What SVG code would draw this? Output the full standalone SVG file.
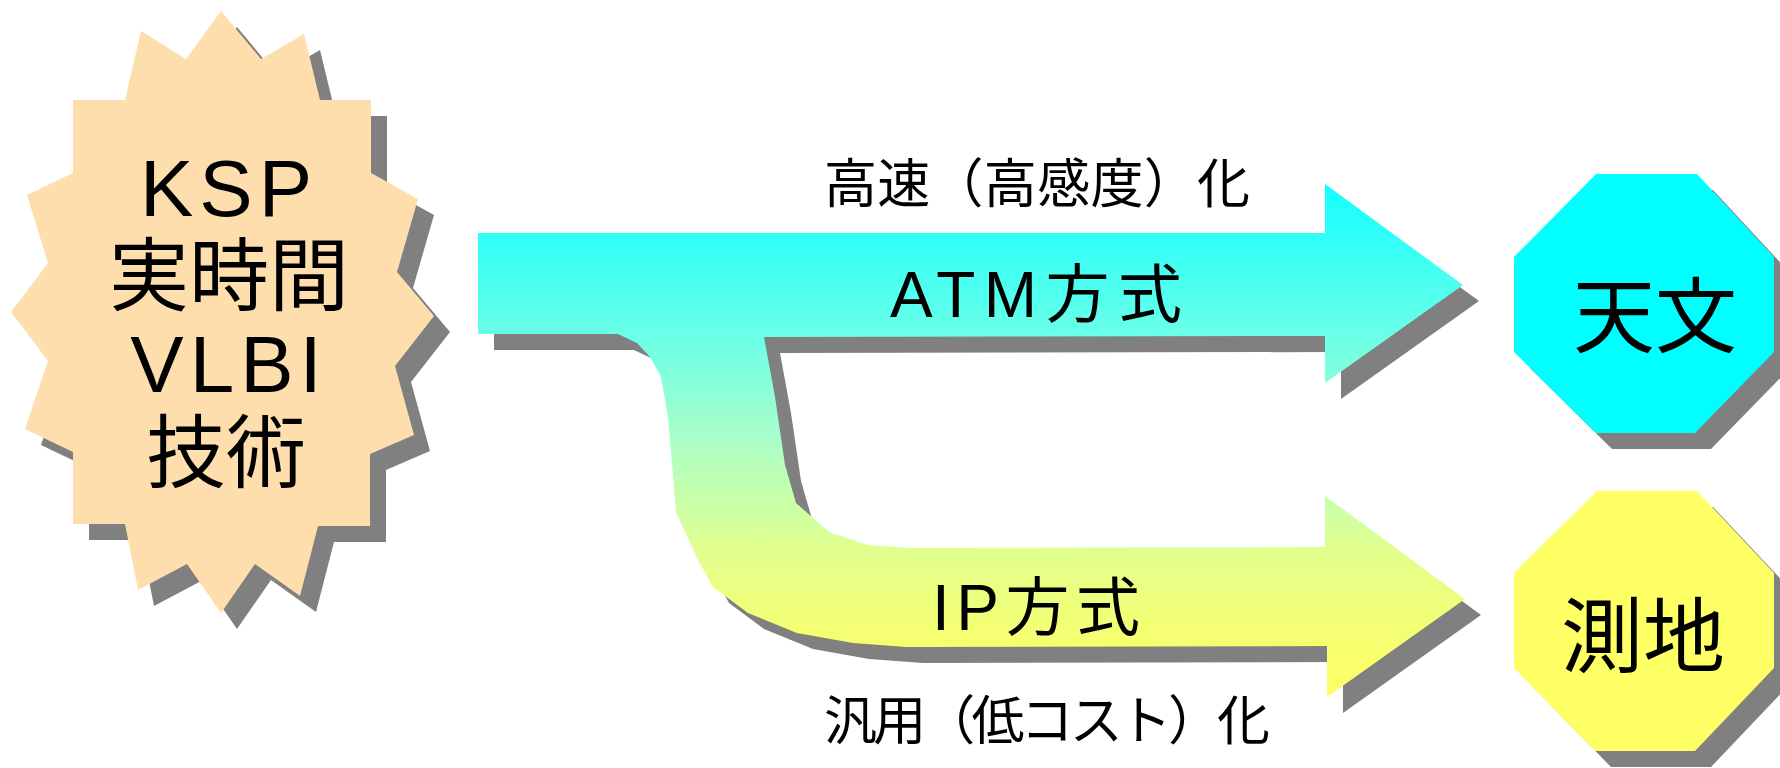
<svg xmlns="http://www.w3.org/2000/svg" width="1780" height="768" viewBox="0 0 1780 768">
  <defs>
    <linearGradient id="flowGrad" gradientUnits="userSpaceOnUse" x1="0" y1="184" x2="0" y2="697">
      <stop offset="0" stop-color="#14FFFF"/>
      <stop offset="0.095" stop-color="#2EFFF8"/>
      <stop offset="0.294" stop-color="#6AFFE8"/>
      <stop offset="0.499" stop-color="#AAFFC8"/>
      <stop offset="0.71" stop-color="#E0FF8F"/>
      <stop offset="0.9" stop-color="#F8FF6E"/>
      <stop offset="1" stop-color="#FFFF66"/>
    </linearGradient>
    <path id="flowShape" d="M478,233 L1325,233 L1325,184 L1463,285 L1325,383 L1325,336 L764,337 L775,397 L785,465 L796,503 L829,532 L868,545 L910,548 L1325,547 L1325,496 L1465,599 L1327,697 L1327,646 L907,647 L853,643 L797,633 L748,613 L713,587 L697,558 L676,512 L668,417 L661,377 L650,357 L637,343 L618,334 L478,334 Z"/>
    <polygon id="starShape" points="221,11 261,59 304,34 320,100 371,100 371,173 418,199 397,272 434,316 395,366 414,435 370,454 370,526 318,526 300,596 255,564 221,613 187,564 138,590 125,524 73,524 73,452 25,429 48,361 11,312 48,263 27,195 73,173 73,100 125,100 141,31 186,59"/>
    <polygon id="oct1" points="1596,174 1697,174 1774,257 1774,352 1695,433 1596,433 1514,352 1514,257"/>
    <polygon id="oct2" points="1597,491 1697,491 1774,573 1774,668 1695,751 1595,751 1514,668 1514,573"/>
  </defs>
  <style>
    .shadow { fill: #808080; }
    .txt { font-family: "Liberation Sans", "Noto Sans CJK JP", sans-serif; fill: #000000; }
    .big { font-size: 80px; letter-spacing: 6px; }
    .lbl { font-size: 64px; }
    .sub { font-size: 53px; }
    .node { font-size: 82px; }
  </style>

  <g id="connectors">
    <use href="#flowShape" class="shadow" transform="translate(16,16)"/>
    <use href="#flowShape" fill="url(#flowGrad)"/>
    <text class="txt lbl" x="890" y="317" textLength="292" lengthAdjust="spacing">ATM方式</text>
    <text class="txt lbl" x="932" y="630" textLength="208" lengthAdjust="spacing">IP方式</text>
    <text class="txt sub" x="824" y="203" textLength="426" lengthAdjust="spacing">高速（高感度）化</text>
    <text class="txt sub" x="824" y="740" textLength="446" lengthAdjust="spacing">汎用（低コスト）化</text>
  </g>

  <g id="node-ksp">
    <use href="#starShape" class="shadow" transform="translate(16,16)"/>
    <use href="#starShape" fill="#FFDEAD"/>
    <text class="txt big" x="229" y="216" text-anchor="middle">KSP</text>
    <text class="txt big" x="229" y="304" text-anchor="middle" style="letter-spacing:0">実時間</text>
    <text class="txt big" x="229" y="392" text-anchor="middle">VLBI</text>
    <text class="txt big" x="226" y="481" text-anchor="middle" style="letter-spacing:0">技術</text>
  </g>

  <g id="node-tenmon">
    <use href="#oct1" class="shadow" transform="translate(16,16)"/>
    <use href="#oct1" fill="#00FFFF"/>
    <text class="txt node" x="1655" y="346" text-anchor="middle">天文</text>
  </g>

  <g id="node-sokuchi">
    <use href="#oct2" class="shadow" transform="translate(16,16)"/>
    <use href="#oct2" fill="#FFFF66"/>
    <text class="txt node" x="1643" y="666" text-anchor="middle">測地</text>
  </g>
</svg>
